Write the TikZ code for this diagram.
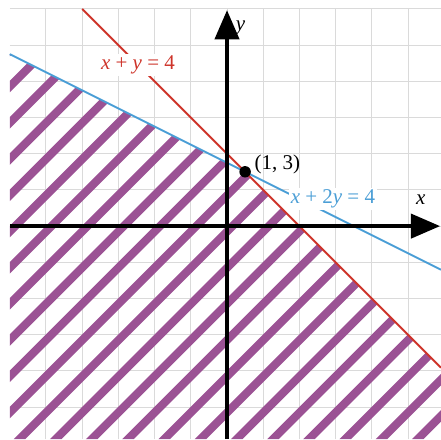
\documentclass[tikz,border=0pt]{standalone}
\usepackage{fontspec}
\setmainfont{Liberation Serif}
\usepackage{tikz}
\usetikzlibrary{arrows.meta, positioning, calc}
\definecolor{line_red}{RGB}{206,52,42}
\definecolor{line_blue}{RGB}{74,158,214}
\definecolor{hatch_purple}{RGB}{155,82,148}
\definecolor{grid_gray}{RGB}{218,218,218}
\tikzset{
  grid_style/.style={draw=grid_gray, line width=0.8pt},
  hatch_style/.style={draw=hatch_purple, line width=6.4pt},
  axis_style/.style={-{Triangle[length=23pt, width=19pt]}, line width=3pt, black},
  red_line/.style={draw=line_red, line width=1.5pt},
  blue_line/.style={draw=line_blue, line width=1.5pt},
  eq_label/.style={fill=white, inner sep=1.5pt, font=\fontsize{16.5}{20}\selectfont},
  axis_label/.style={inner sep=0pt, font=\fontsize{16.5}{20}\selectfont\itshape},
  point_dot/.style={circle, fill=black, inner sep=0pt, minimum size=9pt}
}
\begin{document}
\begin{tikzpicture}[x=0.5cm, y=0.5cm]
  \useasboundingbox (-12.54,-11.77) rectangle (11.82,12.49);

  % grid
  \draw[grid_style] (-12,-11.77) grid (11.82,12);

  % corner points
  \coordinate (bl) at (-12,-11.77);
  \coordinate (br) at (11.82,-11.77);
  \coordinate (blue_start) at (-12,9.5);
  \coordinate (blue_end) at (11.82,-2.41);
  \coordinate (red_start) at (-8,12);
  \coordinate (red_end) at (11.82,-7.82);
  \coordinate (meet) at (1,3);

  % hatched region
  \begin{scope}
    \clip (bl) -- (blue_start) -- (meet) -- (red_end) -- (br) -- cycle;
    \foreach \c in {-25,-23,...,25}
      \draw[hatch_style] ({\c+1.3-13},-13) -- ({\c+1.3+13},13);
  \end{scope}

  % lines
  \draw[red_line] (red_start) -- (red_end);
  \draw[blue_line] (blue_start) -- (blue_end);

  % axes
  \coordinate (x_from) at (-12,0);
  \coordinate (x_to) at (11.77,0);
  \coordinate (y_from) at (0,-11.77);
  \coordinate (y_to) at (0,11.93);
  \draw[axis_style] (x_from) -- (x_to);
  \draw[axis_style] (y_from) -- (y_to);

  % labels
  \node[axis_label] (x_lab) at (10.7,1.45) {x};
  \node[axis_label] (y_lab) at (0.75,10.95) {y};
  \node[eq_label, text=line_red] (red_lab) at (-4.92,8.9) {\textit{x} + \textit{y} = 4};
  \node[eq_label, text=line_blue] (blue_lab) at (5.85,1.5) {\textit{x} + 2\textit{y} = 4};
  \node[point_dot] (dot) at (meet) {};
  \node[eq_label, fill=none, right=1pt of dot, yshift=6pt] (pt_lab) {(1, 3)};
\end{tikzpicture}
\end{document}
